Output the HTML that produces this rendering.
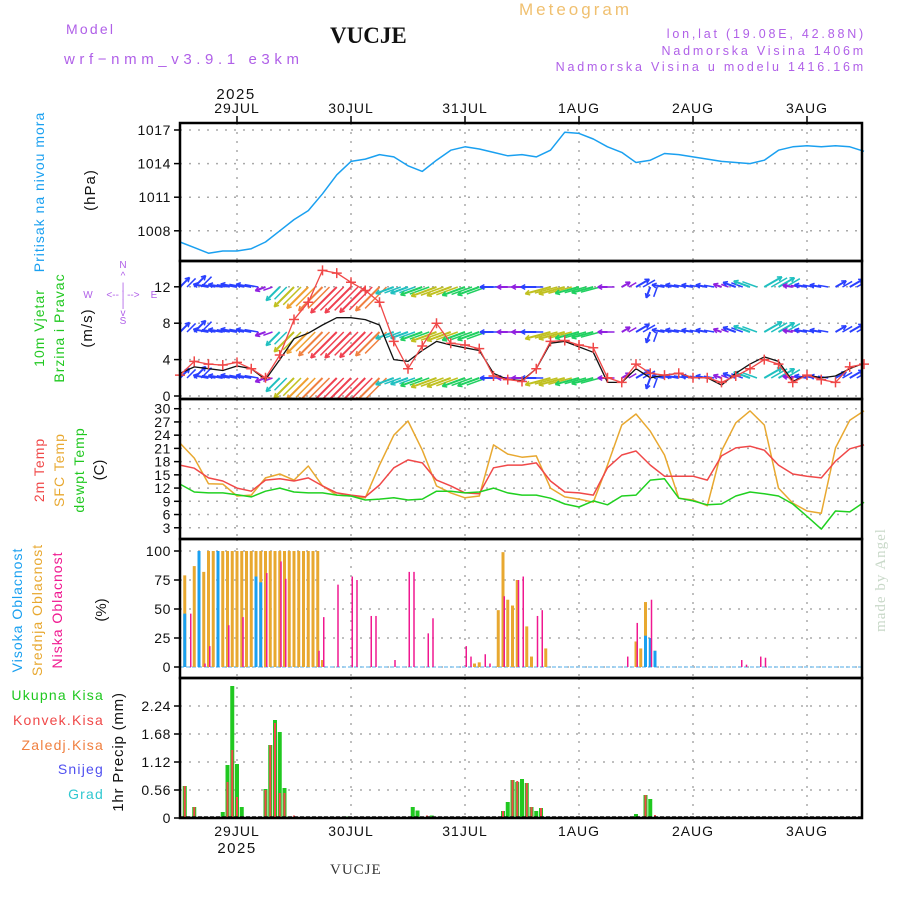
<!DOCTYPE html>
<html><head><meta charset="utf-8"><style>
body{margin:0;background:#fff;width:900px;height:900px;overflow:hidden}
svg{display:block}
text{font-family:"Liberation Sans",sans-serif}
</style></head><body>
<svg id="c" width="900" height="900" xmlns="http://www.w3.org/2000/svg">
<g>
<text x="66" y="34" font-size="14" fill="#b060e8" letter-spacing="2.2">Model</text>
<text x="64" y="64" font-size="15" fill="#b060e8" letter-spacing="4.6">wrf−nmm_v3.9.1 e3km</text>
<text x="330" y="43" font-size="23" font-weight="bold" fill="#111" style="font-family:'Liberation Serif',serif">VUCJE</text>
<text x="519" y="15" font-size="17" fill="#f0c070" letter-spacing="3">Meteogram</text>
<text x="866" y="38" font-size="12.5" fill="#b060e8" text-anchor="end" letter-spacing="2.8">lon,lat (19.08E, 42.88N)</text>
<text x="866" y="55" font-size="12.5" fill="#b060e8" text-anchor="end" letter-spacing="2.8">Nadmorska Visina 1406m</text>
<text x="866" y="71" font-size="12.5" fill="#b060e8" text-anchor="end" letter-spacing="2.8">Nadmorska Visina u modelu 1416.16m</text>
<text x="236" y="99" font-size="15" fill="#111" text-anchor="middle" letter-spacing="1.5">2025</text>
<text x="330" y="874" font-size="15" fill="#333" letter-spacing="1" style="font-family:'Liberation Serif',serif">VUCJE</text>
<text transform="translate(885,580) rotate(-90)" font-size="15" fill="#c8d8c8" text-anchor="middle" letter-spacing="1" style="font-family:'Liberation Serif',serif">made by Angel</text>
</g>
<g id="labels">
<text transform="translate(44,192) rotate(-90)" font-size="14" fill="#1aa0f0" text-anchor="middle" letter-spacing="1">Pritisak na nivou mora</text>
<text transform="translate(95,190) rotate(-90)" font-size="15" fill="#111" text-anchor="middle" letter-spacing="1">(hPa)</text>
<text transform="translate(44,328) rotate(-90)" font-size="14" fill="#20c820" text-anchor="middle" letter-spacing="1">10m Vjetar</text>
<text transform="translate(64,328) rotate(-90)" font-size="14" fill="#20c820" text-anchor="middle" letter-spacing="1">Brzina i Pravac</text>
<text transform="translate(92,328) rotate(-90)" font-size="15" fill="#111" text-anchor="middle" letter-spacing="1">(m/s)</text>
<g fill="#b060e8" font-size="10" text-anchor="middle">
<text x="123" y="268">N</text><text x="123" y="279">^</text><text x="123" y="290">|</text>
<text x="88" y="298">W</text><text x="123" y="298">&lt;-- | --&gt;</text><text x="154" y="298">E</text>
<text x="123" y="307">|</text><text x="123" y="316">v</text><text x="123" y="324">S</text></g>
<text transform="translate(44,470) rotate(-90)" font-size="14" fill="#f04848" text-anchor="middle" letter-spacing="1">2m Temp</text>
<text transform="translate(64,470) rotate(-90)" font-size="14" fill="#e8a830" text-anchor="middle" letter-spacing="1">SFC Temp</text>
<text transform="translate(84,470) rotate(-90)" font-size="14" fill="#20c820" text-anchor="middle" letter-spacing="1">dewpt Temp</text>
<text transform="translate(104,470) rotate(-90)" font-size="15" fill="#111" text-anchor="middle">(C)</text>
<text transform="translate(22,610) rotate(-90)" font-size="14" fill="#1aa0f0" text-anchor="middle" letter-spacing="1">Visoka Oblacnost</text>
<text transform="translate(42,610) rotate(-90)" font-size="14" fill="#e8a830" text-anchor="middle" letter-spacing="1">Srednja Oblacnost</text>
<text transform="translate(62,610) rotate(-90)" font-size="14" fill="#f01890" text-anchor="middle" letter-spacing="1">Niska Oblacnost</text>
<text transform="translate(106,610) rotate(-90)" font-size="15" fill="#111" text-anchor="middle">(%)</text>
<text x="104" y="700" font-size="14" fill="#20c820" text-anchor="end" letter-spacing="1.2">Ukupna Kisa</text>
<text x="104" y="725" font-size="14" fill="#f04848" text-anchor="end" letter-spacing="1.2">Konvek.Kisa</text>
<text x="104" y="750" font-size="14" fill="#f08040" text-anchor="end" letter-spacing="1.2">Zaledj.Kisa</text>
<text x="104" y="774" font-size="14" fill="#5050f0" text-anchor="end" letter-spacing="1.2">Snijeg</text>
<text x="104" y="799" font-size="14" fill="#30c8d0" text-anchor="end" letter-spacing="1.2">Grad</text>
<text transform="translate(123,752) rotate(-90)" font-size="15" fill="#111" text-anchor="middle" letter-spacing="0.8">1hr Precip (mm)</text>
</g>
<g id="plot"></g>
</svg>
<script>
// ---- data (time axis: hours from 28JUL 12Z) ----
const dayLabels = ["29JUL","30JUL","31JUL","1AUG","2AUG","3AUG"];
const dayHours = [12,36,60,84,108,132];
const pressTicks = [1008,1011,1014,1017];
const windTicks = [0,4,8,12];
const tempTicks = [3,6,9,12,15,18,21,24,27,30];
const cloudTicks = [0,25,50,75,100];
const precipTicks = ["0","0.56","1.12","1.68","2.24"];
// 3-hourly series
const pressure = [1007.0,1006.5,1006.0,1006.2,1006.2,1006.4,1007.0,1008.0,1009.0,1009.8,1011.3,1013.0,1014.2,1014.4,1014.8,1014.6,1013.8,1013.3,1014.3,1015.2,1015.5,1015.3,1015.0,1014.7,1014.8,1014.6,1015.2,1016.8,1016.7,1016.2,1015.5,1015.0,1014.1,1014.3,1014.9,1014.8,1014.6,1014.4,1014.2,1014.1,1014.0,1014.3,1015.2,1015.5,1015.6,1015.5,1015.6,1015.5,1015.1];
const windSpeed = [2.5,3.2,3.0,2.8,3.3,3.0,1.8,4.0,6.3,6.9,7.8,8.6,8.6,8.4,7.8,4.0,3.8,5.0,6.0,5.6,5.3,5.0,2.5,1.8,1.7,3.0,5.8,6.0,5.4,4.8,1.5,1.5,3.0,2.0,2.3,2.5,2.0,2.0,1.2,2.5,3.5,4.3,3.8,1.6,2.3,2.0,2.2,3.0,3.6];
const windGust = [2.3,3.8,3.5,3.4,3.7,3.0,2.0,4.5,8.4,10.3,13.8,13.5,12.5,11.6,10.3,6.0,3.0,5.5,8.0,5.8,5.6,5.2,2.2,1.8,1.6,3.0,6.0,6.1,5.6,5.3,2.0,1.5,3.5,2.5,2.3,2.5,2.0,2.0,1.5,2.2,3.0,4.0,3.5,1.5,2.3,1.8,1.5,3.2,3.5];
const windDir = [45,45,170,170,170,170,200,225,225,225,225,225,225,225,225,200,200,200,200,200,200,200,180,180,180,180,195,195,195,195,180,30,30,250,170,170,170,170,160,160,160,30,30,170,170,170,30,30,30];
const temp2m = [17.2,16.5,14.3,13.6,12.0,11.3,13.8,14.1,13.6,14.3,12.5,10.9,10.4,10.0,12.7,16.6,18.4,17.7,13.8,12.5,10.9,10.7,16.6,17.2,17.2,17.7,13.6,11.1,10.9,10.4,16.6,19.5,20.4,17.2,14.7,14.7,14.7,13.8,19.3,21.1,21.5,20.6,17.2,15.2,14.7,14.3,18.1,20.9,21.8];
const tempSfc = [22.2,18.8,13.0,12.9,10.2,10.4,14.3,15.2,13.8,17.0,12.5,10.4,10.2,9.8,17.2,24.0,27.2,20.6,12.5,10.9,9.8,10.2,21.8,19.7,19.0,19.3,12.0,10.0,9.5,8.8,17.2,26.3,28.8,24.9,19.5,9.7,9.3,8.0,20.4,26.8,29.5,26.3,12.0,8.6,6.8,6.3,21.1,27.4,29.5];
const dewpt = [12.9,11.1,10.9,10.9,10.5,10.0,11.3,12.0,11.1,10.9,10.9,10.4,10.2,9.3,9.5,9.8,9.3,9.5,11.3,11.3,10.9,11.1,12.0,10.9,10.4,10.4,9.7,8.4,7.7,9.1,8.2,10.2,10.4,13.8,14.1,9.7,9.1,8.2,8.4,10.2,11.1,10.7,10.2,8.4,5.6,2.7,6.8,6.6,8.8];
// hourly sparse series: [hour, value]
const highCloud = [[1,46],[4,100],[8,100],[16,78],[17,73],[98,27],[99,25],[100,14]];
const midCloud = [[1,79],[3,87],[5,82],[6,100],[7,100],[8,100],[9,100],[10,100],[11,100],[12,100],[13,100],[14,100],[15,100],[16,100],[17,100],[18,100],[19,100],[20,100],[21,100],[22,100],[23,100],[24,100],[25,100],[26,100],[27,100],[28,100],[29,100],[30,6],[62,3],[63,4],[67,49],[68,99],[69,58],[70,53],[71,75],[73,35],[74,9],[77,16],[96,22],[97,16],[98,56],[100,14]];
const lowCloud = [[2,46],[5,3],[6,18],[10,36],[13,43],[18,81],[21,91],[22,76],[29,14],[30,43],[33,71],[36,78],[37,75],[40,44],[41,44],[45,6],[48,82],[49,82],[52,29],[53,42],[60,18],[61,9],[64,11],[65,3],[68,61],[71,75],[72,78],[75,44],[76,49],[94,9],[96,38],[99,58],[118,6],[119,2],[122,9],[123,8]];
const totalPrecip = [[1,0.64],[2,0.03],[3,0.22],[9,0.12],[10,1.06],[11,2.64],[12,1.08],[13,0.22],[18,0.58],[19,1.46],[20,1.96],[21,1.72],[22,0.6],[23,0.03],[35,0.03],[49,0.22],[50,0.15],[53,0.05],[56,0.03],[68,0.14],[69,0.32],[70,0.76],[71,0.72],[72,0.78],[73,0.7],[74,0.22],[75,0.14],[76,0.2],[96,0.08],[98,0.46],[99,0.38]];
const convPrecip = [[1,0.64],[3,0.22],[10,0.72],[11,1.36],[12,0.42],[18,0.56],[19,1.46],[20,1.9],[21,0.5],[22,0.5],[24,0.05],[52,0.05],[68,0.14],[70,0.76],[71,0.74],[73,0.7],[74,0.22],[76,0.2],[77,0.02],[98,0.46],[100,0.06]];

// ---- axes ----
const L=180,R=862;
const X=h=>L+4.75*h;
const P={pres:[123,261],wind:[261,399],temp:[399,539],cloud:[539,678],prec:[678,818]};
const yPres=v=>130+(1017-v)*11.2;
const yWind=v=>396-9.1*v;
const yTemp=v=>541-4.41*v;
const yCloud=v=>667-1.16*v;
const yPrec=v=>818-50*v;
const NS="http://www.w3.org/2000/svg";
const plot=document.getElementById('plot');
function el(tag,attrs,parent){const e=document.createElementNS(NS,tag);for(const k in attrs)e.setAttribute(k,attrs[k]);(parent||plot).appendChild(e);return e;}
function txt(x,y,s,attrs,parent){const t=el('text',Object.assign({x:x,y:y},attrs),parent);t.textContent=s;return t;}

function panel(name,top,bot,ticks,yf,labels){
  const g=el('g',{});
  
  
  dayHours.forEach(h=>{const l=el('line',{x1:X(h),x2:X(h),y1:top,y2:bot,stroke:'#aaa','stroke-width':1.5,'stroke-dasharray':'2,7'},g);
    
    });
  ticks.forEach((t,i)=>{const y=yf(+t);
    const gl=el('line',{x1:L,x2:R,y1:y,y2:y,stroke:'#aaa','stroke-width':1.5,'stroke-dasharray':'2,7'},g);
    
    
    el('line',{x1:L-6,x2:L,y1:y,y2:y,stroke:'#000','stroke-width':1.5},g);
    const tl=txt(L-9,y+5,labels?labels[i]:String(t),{'font-size':14,'text-anchor':'end',fill:'#111','letter-spacing':'0.6'},g);
    
    
  });
  return g;
}
function frame(top,bot,name){const r=el('rect',{x:L,y:top,width:R-L,height:bot-top,fill:'none',stroke:'#000','stroke-width':2.5});
  
  }
function linePath(arr,yf,color,name,w){
  const d=arr.map((v,i)=>(i?'L':'M')+X(3*i).toFixed(1)+','+yf(v).toFixed(1)).join('');
  const p=el('path',{d:d,fill:'none',stroke:color,'stroke-width':w||1.5,'stroke-linejoin':'round'});
  
  
  return p;
}

// day labels top & bottom
dayLabels.forEach((s,i)=>{
  const t1=txt(X(dayHours[i]),113,s,{'font-size':14,'text-anchor':'middle',fill:'#111','letter-spacing':'1'});
  
  
  el('line',{x1:X(dayHours[i]),x2:X(dayHours[i]),y1:116,y2:123,stroke:'#000','stroke-width':1.5});
  const t2=txt(X(dayHours[i]),836,s,{'font-size':14,'text-anchor':'middle',fill:'#111','letter-spacing':'1'});
  
  
});
const yr=txt(X(12),853,'2025',{'font-size':15,'text-anchor':'middle',fill:'#111','letter-spacing':'1.5'});



// pressure
panel('pressure',P.pres[0],P.pres[1],pressTicks,yPres);
linePath(pressure,yPres,'#1aa0f0','pressure-line',1.5);

// wind
panel('wind',P.wind[0],P.wind[1],windTicks,yWind);
function wcol(s){return s<2?'#9020e0':s<3.5?'#2a40ff':s<4.5?'#20c0c0':s<5.5?'#20d060':s<6.5?'#c0c020':s<7.5?'#f0a030':s<8.2?'#f08040':'#f04050';}
const clipW=el('clipPath',{id:'cw'});el('rect',{x:L,y:P.wind[0],width:R-L,height:P.wind[1]-P.wind[0]},clipW);
const wg=el('g',{'clip-path':'url(#cw)'});


[287,332,378].forEach(ry=>{
  windSpeed.forEach((s,i)=>{
    const a=windDir[i]*Math.PI/180, len=3.8*s+4;
    const x0=X(3*i), x1=x0+len*Math.cos(a), y1=ry-len*Math.sin(a);
    const c=wcol(s);
    const ln=el('line',{x1:x0,y1:ry,x2:x1,y2:y1,stroke:c,'stroke-width':2},wg);
    
    
    for(const da of [0.5,-0.5]){const b=a+Math.PI+da;
      el('line',{x1:x1,y1:y1,x2:x1+5*Math.cos(b),y2:y1-5*Math.sin(b),stroke:c,'stroke-width':1.5},wg);}
    const xm=x0+7, lm=len*0.9;
    el('line',{x1:xm,y1:ry,x2:xm+lm*Math.cos(a),y2:ry-lm*Math.sin(a),stroke:c,'stroke-width':1.5},wg);
  });
});
linePath(windSpeed,yWind,'#111','wind-speed-line',1.3);
linePath(windGust,yWind,'#f04848','wind-gust-line',1.3);
windGust.forEach((v,i)=>{const x=X(3*i),y=yWind(v);
  const m=el('path',{d:`M${x-5},${y}H${x+5}M${x},${y-5}V${y+5}`,stroke:'#f04848','stroke-width':1.5,fill:'none'});
  
  });

// temperature
panel('temp',P.temp[0],P.temp[1],tempTicks,yTemp);
linePath(tempSfc,yTemp,'#e8a830','sfc-temp-line',1.5);
linePath(temp2m,yTemp,'#f04848','temp-2m-line',1.5);
linePath(dewpt,yTemp,'#20d020','dewpoint-line',1.5);

// clouds
panel('cloud',P.cloud[0],P.cloud[1],cloudTicks,yCloud);
el('line',{x1:L,x2:R,y1:yCloud(0),y2:yCloud(0),stroke:'#8cc8f0','stroke-width':1.5,'stroke-dasharray':'4,2'});
function bars(arr,yf,color,w,dx,name){arr.forEach(([h,v])=>{
  const r=el('rect',{x:X(h)+dx,y:yf(v),width:w,height:Math.max(0.5,yf(0)-yf(v)),fill:color});
  
  });}
bars(midCloud,yCloud,'#e8a830',3,-1.5,'mid-cloud-bar');
bars(highCloud,yCloud,'#1aa0f0',3,-1.5,'high-cloud-bar');
bars(lowCloud,yCloud,'#f01890',1.5,0.5,'low-cloud-bar');

// precipitation
panel('precip',P.prec[0],P.prec[1],precipTicks,yPrec,precipTicks);
bars(totalPrecip,yPrec,'#20c820',4,-2,'total-precip-bar');
bars(convPrecip,yPrec,'#f04848',2,-1,'convective-precip-bar');
el('line',{x1:L,x2:R,y1:yPrec(0)-1,y2:yPrec(0)-1,stroke:'#111','stroke-width':1.5,'stroke-dasharray':'4,2'});

['pres','wind','temp','cloud','prec'].forEach(k=>frame(P[k][0],P[k][1],k));
</script>
</body></html>
